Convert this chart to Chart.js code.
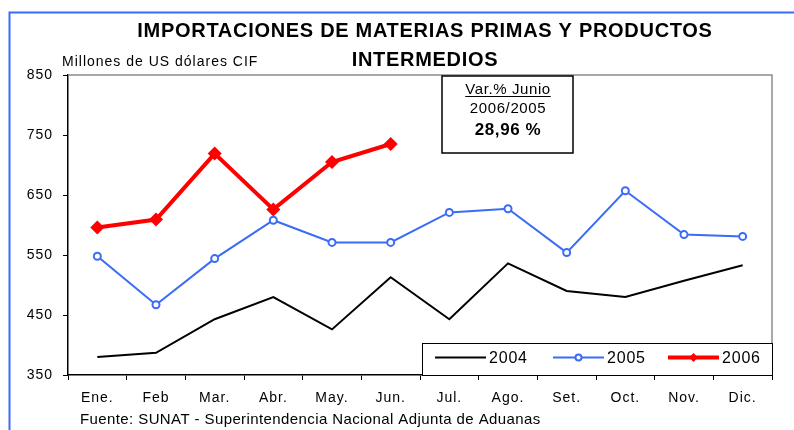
<!DOCTYPE html>
<html>
<head>
<meta charset="utf-8">
<script src="https://cdn.jsdelivr.net/npm/chart.js@4"></script>
<style>
  html, body { margin: 0; padding: 0; background: #fff; }
  #wrap { width: 794px; height: 430px; position: relative; }
</style>
</head>
<body>
<div id="wrap"><canvas id="chart" width="794" height="430"></canvas></div>
<script>
const months = ["Ene.", "Feb", "Mar.", "Abr.", "May.", "Jun.", "Jul.", "Ago.", "Set.", "Oct.", "Nov.", "Dic."];
const y2004 = [380, 387, 443, 480, 426, 513, 443, 536, 490, 480, 507, 533];
const y2005 = [548, 467, 544, 608, 571, 571, 621, 627, 554, 657, 584, 581];
const y2006 = [596, 609, 719, 626, 705, 735, null, null, null, null, null, null];
const yTicks = [350, 450, 550, 650, 750, 850];

const FONT = "'Liberation Sans', Arial, sans-serif";

// titulo, recuadro de variacion, leyenda y marcos
const decor = {
  id: "decor",
  beforeDraw(chart) {
    const ctx = chart.ctx;
    ctx.fillStyle = "#fff";
    ctx.fillRect(0, 0, chart.width, chart.height);
    // el texto del grafico original sale algo espaciado
    ctx.letterSpacing = "1px";
  },
  afterDraw(chart) {
    const ctx = chart.ctx;
    const a = chart.chartArea;
    ctx.save();

    // marco azul exterior
    ctx.strokeStyle = "#3b6cf5";
    ctx.lineWidth = 2;
    ctx.beginPath();
    ctx.moveTo(9.5, 430);
    ctx.lineTo(9.5, 12.5);
    ctx.lineTo(794, 12.5);
    ctx.stroke();

    // bordes gris del area
    ctx.strokeStyle = "#8c8c8c";
    ctx.lineWidth = 1.5;
    ctx.beginPath();
    ctx.moveTo(a.left, a.top);
    ctx.lineTo(a.right, a.top);
    ctx.lineTo(a.right, a.bottom);
    ctx.stroke();

    // titulo
    ctx.fillStyle = "#000";
    ctx.textAlign = "center";
    ctx.textBaseline = "alphabetic";
    ctx.font = "bold 20px " + FONT;
    ctx.letterSpacing = "0.7px";
    ctx.fillText("IMPORTACIONES DE MATERIAS PRIMAS Y PRODUCTOS", 425, 37);
    ctx.fillText("INTERMEDIOS", 425, 66);

    ctx.textAlign = "left";
    ctx.font = "14px " + FONT;
    ctx.letterSpacing = "1px";
    ctx.fillText("Millones de US dólares CIF", 62, 66);

    // recuadro variacion
    ctx.fillStyle = "#fff";
    ctx.fillRect(442, 76, 131, 77);
    ctx.strokeStyle = "#000";
    ctx.lineWidth = 1.5;
    ctx.strokeRect(442, 76, 131, 77);
    ctx.fillStyle = "#000";
    ctx.textAlign = "center";
    ctx.textBaseline = "alphabetic";
    ctx.font = "15px " + FONT;
    ctx.letterSpacing = "0.6px";
    ctx.fillText("Var.% Junio", 508, 94);
    const w = ctx.measureText("Var.% Junio").width;
    ctx.lineWidth = 1.2;
    ctx.beginPath();
    ctx.moveTo(508 - w / 2, 96.5);
    ctx.lineTo(508 + w / 2, 96.5);
    ctx.stroke();
    ctx.fillText("2006/2005", 508, 113);
    ctx.font = "bold 17px " + FONT;
    ctx.fillText("28,96 %", 508, 135);

    // leyenda
    const lx = 422, ly = 343, lw = a.right - 422, lh = a.bottom - 343;
    ctx.fillStyle = "#fff";
    ctx.fillRect(lx, ly, lw, lh);
    ctx.strokeStyle = "#000";
    ctx.lineWidth = 1;
    ctx.strokeRect(lx + 0.5, ly + 0.5, lw, lh);
    const items = [
      { x: 435, ds: chart.data.datasets[0] },
      { x: 553, ds: chart.data.datasets[1] },
      { x: 668, ds: chart.data.datasets[2] }
    ];
    const cy = 357.5;
    items.forEach((it) => {
      ctx.strokeStyle = it.ds.borderColor;
      ctx.lineWidth = it.ds.borderWidth;
      ctx.beginPath();
      ctx.moveTo(it.x, cy);
      ctx.lineTo(it.x + 51, cy);
      ctx.stroke();
      const mx = it.x + 25.5;
      if (it.ds.pointStyle === "circle" && it.ds.pointRadius > 0) {
        ctx.fillStyle = "#fff";
        ctx.lineWidth = 2;
        ctx.beginPath();
        ctx.arc(mx, cy, 3, 0, Math.PI * 2);
        ctx.fill();
        ctx.stroke();
      } else if (it.ds.pointStyle === "rectRot") {
        ctx.fillStyle = it.ds.borderColor;
        ctx.beginPath();
        ctx.moveTo(mx, cy - 4.5);
        ctx.lineTo(mx + 4.5, cy);
        ctx.lineTo(mx, cy + 4.5);
        ctx.lineTo(mx - 4.5, cy);
        ctx.closePath();
        ctx.fill();
      }
      ctx.fillStyle = "#000";
      ctx.textAlign = "left";
      ctx.textBaseline = "alphabetic";
      ctx.font = "16px " + FONT;
      ctx.letterSpacing = "0.8px";
      ctx.fillText(it.ds.label, it.x + 54, 363);
    });

    // fuente
    ctx.textAlign = "left";
    ctx.font = "15px " + FONT;
    ctx.letterSpacing = "0.4px";
    ctx.fillText("Fuente: SUNAT - Superintendencia Nacional Adjunta de Aduanas", 80, 424);

    ctx.restore();
  }
};

new Chart(document.getElementById("chart"), {
  type: "line",
  data: {
    labels: months,
    datasets: [
      {
        label: "2004",
        data: y2004,
        borderColor: "#000",
        borderWidth: 2,
        pointRadius: 0,
        pointStyle: "line",
        tension: 0
      },
      {
        label: "2005",
        data: y2005,
        borderColor: "#3b6cf5",
        borderWidth: 2,
        pointStyle: "circle",
        pointRadius: 3.5,
        pointBorderWidth: 2,
        pointBackgroundColor: "#fff",
        pointBorderColor: "#3b6cf5",
        tension: 0
      },
      {
        label: "2006",
        data: y2006,
        borderColor: "#ff0000",
        borderWidth: 4,
        pointStyle: "rectRot",
        pointRadius: 7,
        pointBackgroundColor: "#ff0000",
        pointBorderColor: "#ff0000",
        pointBorderWidth: 0,
        tension: 0
      }
    ]
  },
  options: {
    responsive: false,
    animation: false,
    layout: { padding: { left: 0, top: 75, right: 22, bottom: 0 } },
    plugins: {
      legend: { display: false },
      title: { display: false },
      tooltip: { enabled: false }
    },
    scales: {
      x: {
        offset: true,
        grid: { offset: true, drawOnChartArea: false, color: "#000", tickLength: 5, lineWidth: 1 },
        border: { color: "#000", width: 1.5 },
        ticks: { color: "#000", font: { family: FONT, size: 14 }, padding: 10, maxRotation: 0, autoSkip: false },
        afterFit(scale) { scale.height = 55; }
      },
      y: {
        min: 350,
        max: 850,
        afterBuildTicks(scale) { scale.ticks = yTicks.map((v) => ({ value: v })); },
        grid: { drawOnChartArea: false, color: "#000", tickLength: 5 },
        border: { color: "#000", width: 1.5 },
        ticks: { color: "#000", font: { family: FONT, size: 14 }, padding: 10 },
        afterFit(scale) { scale.width = 68; }
      }
    }
  },
  plugins: [decor]
});
</script>
</body>
</html>
